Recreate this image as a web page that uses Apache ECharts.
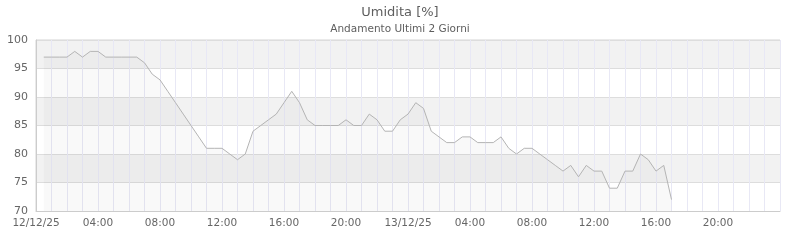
<!DOCTYPE html>
<html>
<head>
<meta charset="utf-8">
<script src="https://cdn.jsdelivr.net/npm/echarts@6/dist/echarts.min.js"></script>
<style>html,body{margin:0;padding:0;background:#fff}#c{width:800px;height:240px}</style>
</head>
<body>
<div id="c"></div>
<script>
const titleText = 'Umidita [%]';
const subtitleText = 'Andamento Ultimi 2 Giorni';
const startTime = '2025-12-12T00:00';
const times = [
 '2025-12-12T00:30','2025-12-12T01:00','2025-12-12T01:30','2025-12-12T02:00','2025-12-12T02:30','2025-12-12T03:00',
 '2025-12-12T03:30','2025-12-12T04:00','2025-12-12T04:30','2025-12-12T05:00','2025-12-12T05:30','2025-12-12T06:00',
 '2025-12-12T06:30','2025-12-12T07:00','2025-12-12T07:30','2025-12-12T08:00','2025-12-12T08:30','2025-12-12T09:00',
 '2025-12-12T09:30','2025-12-12T10:00','2025-12-12T10:30','2025-12-12T11:00','2025-12-12T11:30','2025-12-12T12:00',
 '2025-12-12T12:30','2025-12-12T13:00','2025-12-12T13:30','2025-12-12T14:00','2025-12-12T14:30','2025-12-12T15:00',
 '2025-12-12T15:30','2025-12-12T16:00','2025-12-12T16:30','2025-12-12T17:00','2025-12-12T17:30','2025-12-12T18:00',
 '2025-12-12T18:30','2025-12-12T19:00','2025-12-12T19:30','2025-12-12T20:00','2025-12-12T20:30','2025-12-12T21:00',
 '2025-12-12T21:30','2025-12-12T22:00','2025-12-12T22:30','2025-12-12T23:00','2025-12-12T23:30',
 '2025-12-13T00:00','2025-12-13T00:30','2025-12-13T01:00','2025-12-13T01:30','2025-12-13T02:00','2025-12-13T02:30',
 '2025-12-13T03:00','2025-12-13T03:30','2025-12-13T04:00','2025-12-13T04:30','2025-12-13T05:00','2025-12-13T05:30',
 '2025-12-13T06:00','2025-12-13T06:30','2025-12-13T07:00','2025-12-13T07:30','2025-12-13T08:00','2025-12-13T08:30',
 '2025-12-13T09:00','2025-12-13T09:30','2025-12-13T10:00','2025-12-13T10:30','2025-12-13T11:00','2025-12-13T11:30',
 '2025-12-13T12:00','2025-12-13T12:30','2025-12-13T13:00','2025-12-13T13:30','2025-12-13T14:00','2025-12-13T14:30',
 '2025-12-13T15:00','2025-12-13T15:30','2025-12-13T16:00','2025-12-13T16:30','2025-12-13T17:00'
];
const humidity = [
 97,97,97,97,98,97,
 98,98,97,97,97,97,
 97,96,94,93,91,89,
 87,85,83,81,81,81,
 80,79,80,84,85,86,
 87,89,91,89,86,85,
 85,85,85,86,85,85,
 87,86,84,84,86,
 87,89,88,84,83,82,
 82,83,83,82,82,82,
 83,81,80,81,81,80,
 79,78,77,78,76,78,
 77,77,74,74,77,77,
 80,79,77,78,72
];
const yTicks = [70, 75, 80, 85, 90, 95, 100];
const xTickLabels = {0:'12/12/25',4:'04:00',8:'08:00',12:'12:00',16:'16:00',20:'20:00',24:'13/12/25',28:'04:00',32:'08:00',36:'12:00',40:'16:00',44:'20:00'};

const t0 = Date.parse(startTime);
const seriesData = times.map((t, i) => [(Date.parse(t) - t0) / 3600000, humidity[i]]);

const chart = echarts.init(document.getElementById('c'), null, {renderer: 'canvas'});
chart.setOption({
  animation: false,
  backgroundColor: '#ffffff',
  textStyle: {fontFamily: 'DejaVu Sans'},
  title: {
    text: titleText,
    subtext: subtitleText,
    left: 'center',
    top: 1,
    itemGap: 5,
    textStyle: {fontSize: 13, fontWeight: 'normal', color: '#5e5e5e', fontFamily: 'DejaVu Sans'},
    subtextStyle: {fontSize: 10.5, color: '#5e5e5e', fontFamily: 'DejaVu Sans'}
  },
  grid: {left: 36, right: 20, top: 40, bottom: 29, show: true, borderColor: '#d4d4d4', borderWidth: 1, backgroundColor: 'transparent'},
  xAxis: {
    type: 'value', min: 0, max: 48, interval: 1,
    axisLine: {show: true, lineStyle: {color: '#cccccc'}},
    axisTick: {show: false},
    axisLabel: {
      color: '#666666', fontSize: 10.5, margin: 7, showMinLabel: true, showMaxLabel: false,
      formatter: v => (xTickLabels[v] !== undefined ? xTickLabels[v] : '')
    },
    splitLine: {show: true, lineStyle: {color: '#e8e8f5', width: 1}}
  },
  yAxis: {
    type: 'value', min: yTicks[0], max: yTicks[yTicks.length - 1], interval: 5,
    axisLine: {show: true, lineStyle: {color: '#cccccc'}},
    axisTick: {show: false},
    axisLabel: {color: '#666666', fontSize: 11, margin: 8},
    splitLine: {show: true, lineStyle: {color: '#dddddd', width: 1}},
    splitArea: {show: true, areaStyle: {color: ['#ffffff', '#f2f2f2']}}
  },
  series: [{
    type: 'line',
    data: seriesData,
    showSymbol: false,
    symbol: 'none',
    lineStyle: {color: '#b4b4b4', width: 1},
    areaStyle: {color: 'rgba(0,0,0,0.035)', origin: 'start'},
    z: 3
  }]
});
</script>
</body>
</html>
